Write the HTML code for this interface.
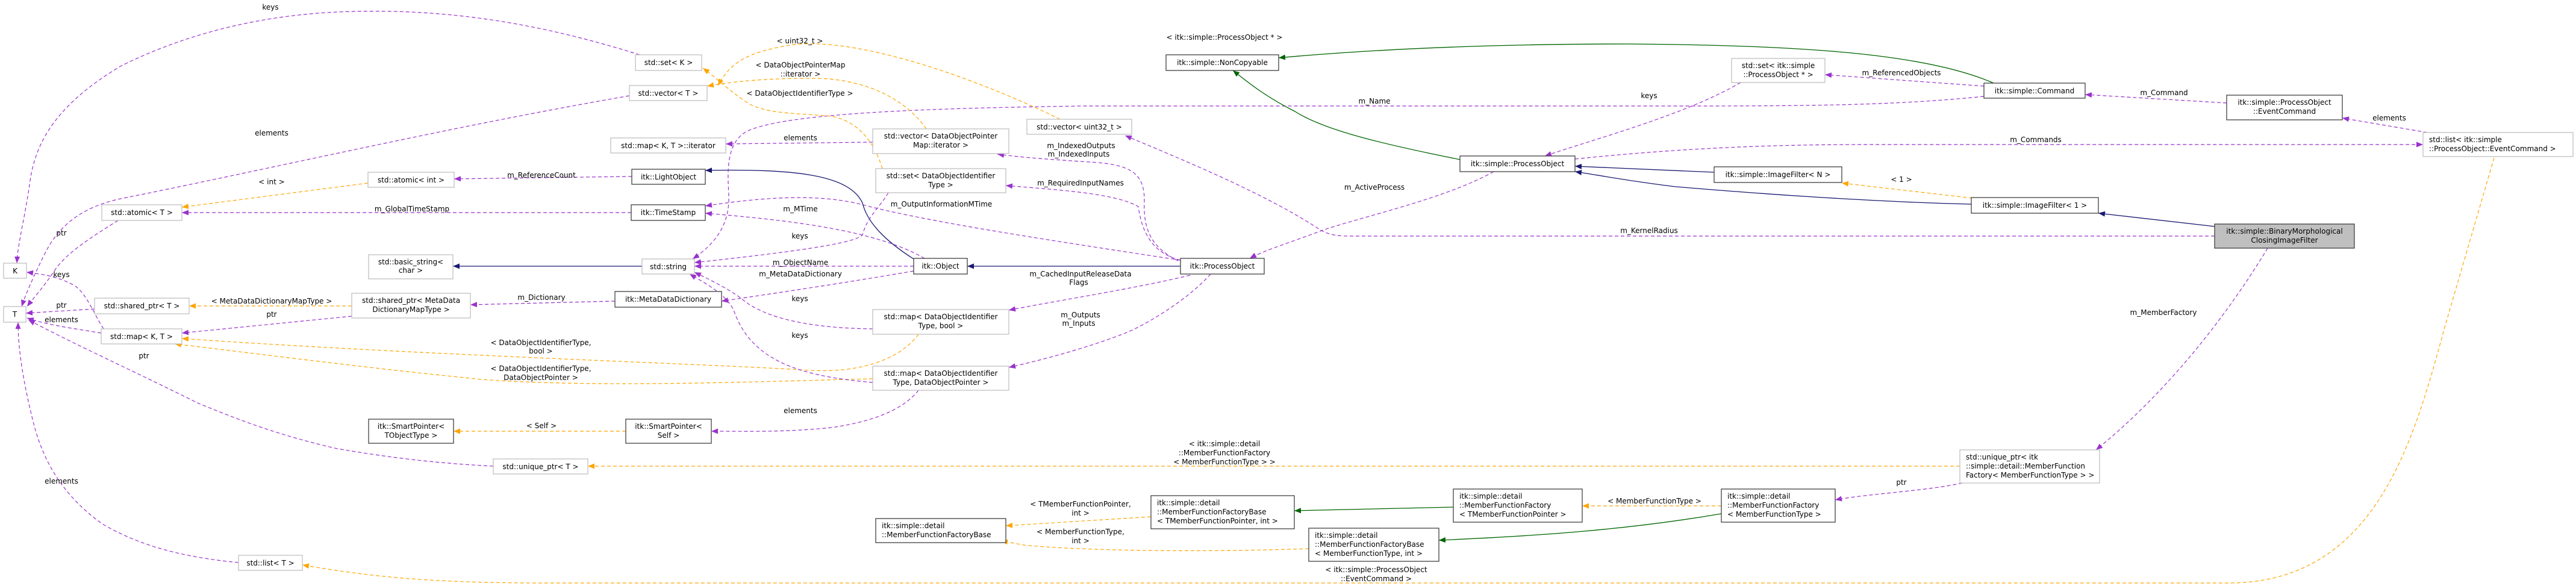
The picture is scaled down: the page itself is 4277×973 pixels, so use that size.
<!DOCTYPE html>
<html><head><meta charset="utf-8"><style>
html,body{margin:0;padding:0;background:#fff;}
svg{display:block;}
text{font-family:"DejaVu Sans","Liberation Sans",sans-serif;font-size:12px;fill:#000;}
.g{fill:#fff;stroke:#bfbfbf;stroke-width:1.3}
.b{fill:#fff;stroke:#404040;stroke-width:1.3}
.p{fill:none;stroke:#9a32cd;stroke-width:1.2;stroke-dasharray:6,4;marker-end:url(#mp)}
.o{fill:none;stroke:#ffa500;stroke-width:1.2;stroke-dasharray:6,4;marker-end:url(#mo)}
.n{fill:none;stroke:#191970;stroke-width:1.3;marker-end:url(#mn)}
.gr{fill:none;stroke:#006400;stroke-width:1.3;marker-end:url(#mg)}
</style></head><body>
<svg width="4277" height="973" viewBox="0 0 4277 973" xmlns="http://www.w3.org/2000/svg">
<defs>
<marker id="mp" markerUnits="userSpaceOnUse" markerWidth="12" markerHeight="9" refX="11" refY="4.5" orient="auto"><path d="M0,0 L11,4.5 L0,9 z" fill="#9a32cd"/></marker>
<marker id="mo" markerUnits="userSpaceOnUse" markerWidth="12" markerHeight="9" refX="11" refY="4.5" orient="auto"><path d="M0,0 L11,4.5 L0,9 z" fill="#ffa500"/></marker>
<marker id="mn" markerUnits="userSpaceOnUse" markerWidth="12" markerHeight="9" refX="11" refY="4.5" orient="auto"><path d="M0,0 L11,4.5 L0,9 z" fill="#191970"/></marker>
<marker id="mg" markerUnits="userSpaceOnUse" markerWidth="12" markerHeight="9" refX="11" refY="4.5" orient="auto"><path d="M0,0 L11,4.5 L0,9 z" fill="#006400"/></marker>
</defs>

<!-- edges -->
<path class="p" d="M1062,91 C900,40 750,15 589,19 C430,22 300,60 200,110 C100,170 60,230 50,300 C40,370 30,400 28,437"/>
<path class="p" d="M1045,159 C750,210 450,280 200,330 C130,345 95,380 75,420 C55,460 42,490 36,509"/>
<path class="p" d="M196,366 C150,395 110,420 90,450 C70,480 55,495 45,509"/>
<path class="p" d="M172,546 C155,520 145,490 125,475 C100,460 70,455 44,452"/>
<path class="p" d="M157,513 L43,520"/>
<path class="p" d="M168,553 C120,545 80,540 45,528"/>
<path class="p" d="M819,774 C700,768 620,755 560,745 C450,720 380,690 330,670 C230,620 120,570 47,531"/>
<path class="p" d="M396,934 C300,925 230,905 170,870 C100,820 70,760 55,700 C35,620 30,570 30,535"/>
<path class="p" d="M1049,293 L754,297"/>
<path class="o" d="M611,304 L302,344"/>
<path class="p" d="M1048,353 L302,353"/>
<path class="p" d="M1021,500 L781,506"/>
<path class="o" d="M584,508 L314,508"/>
<path class="p" d="M584,525 L302,553"/>
<path class="o" d="M1525,555 C1500,590 1440,620 1345,615 C1200,605 700,590 302,562"/>
<path class="o" d="M1449,629 C1300,632 1000,645 800,630 C600,610 450,590 290,571"/>
<path class="o" d="M1039,716 L753,716"/>
<path class="p" d="M1525,648 C1500,680 1450,700 1380,710 C1300,718 1240,716 1181,716"/>
<path class="n" d="M1066,442 L752,442"/>
<path class="p" d="M1517,442 L1153,442"/>
<path class="p" d="M1517,450 C1400,470 1300,485 1198,500"/>
<path class="p" d="M1535,429 C1450,380 1300,365 1171,354"/>
<path class="p" d="M1960,432 C1750,400 1550,370 1440,342 C1380,325 1300,322 1171,342"/>
<path class="n" d="M1517,430 C1470,400 1440,370 1432,337 C1410,290 1320,280 1171,283"/>
<path class="n" d="M1960,442 L1606,442"/>
<path class="p" d="M1475,320 C1460,345 1440,360 1432,390 C1420,405 1300,420 1153,436"/>
<path class="p" d="M1449,546 C1350,545 1270,530 1230,495 C1210,480 1180,465 1153,452"/>
<path class="p" d="M1449,635 C1330,625 1250,600 1220,520 C1210,490 1170,470 1145,455"/>
<path class="p" d="M3294,160 C3150,175 3000,176 2800,176 L1800,176 C1500,180 1300,190 1240,218 C1200,240 1210,300 1210,330 C1210,380 1180,410 1150,430"/>
<path class="o" d="M1760,198 C1600,120 1400,55 1300,77 C1230,90 1210,110 1192,142"/>
<path class="o" d="M1538,214 C1500,160 1430,130 1350,130 C1270,130 1220,135 1174,143"/>
<path class="o" d="M1465,280 C1450,230 1420,200 1380,193 C1330,188 1270,190 1240,170 C1210,150 1190,130 1167,113"/>
<path class="p" d="M1449,236 L1205,239"/>
<path class="p" d="M1956,433 C1910,410 1898,380 1900,333 C1900,290 1880,275 1823,270 C1750,265 1700,262 1656,256"/>
<path class="p" d="M1960,432 C1910,420 1895,380 1890,343 C1850,320 1750,315 1670,308"/>
<path class="p" d="M1976,457 C1880,480 1750,500 1675,515"/>
<path class="p" d="M2010,455 C1970,500 1900,540 1871,552 C1800,580 1720,600 1675,610"/>
<path class="p" d="M3677,392 L2240,392 C2215,392 2205,388 2194,383 C2100,320 1950,260 1868,225"/>
<path class="p" d="M2480,285 C2400,330 2260,360 2194,383 C2150,400 2100,415 2075,429"/>
<path class="p" d="M2890,137 C2800,190 2650,230 2565,259"/>
<path class="p" d="M3294,143 L3030,124"/>
<path class="p" d="M2615,264 C2800,245 2950,240 3100,240 L4023,240"/>
<path class="p" d="M4030,220 L3889,196"/>
<path class="p" d="M3697,171 L3462,157"/>
<path class="gr" d="M3310,138 C3200,90 3000,75 2705,73 C2500,73 2300,80 2123,96"/>
<path class="gr" d="M2424,265 C2300,240 2200,217 2150,185 C2100,160 2070,135 2047,117"/>
<path class="n" d="M2846,286 L2615,276"/>
<path class="n" d="M3273,339 C3100,335 2900,320 2782,310 C2700,300 2650,290 2615,285"/>
<path class="o" d="M3275,329 L3058,304"/>
<path class="n" d="M3677,376 L3484,354"/>
<path class="p" d="M3765,412 C3700,520 3600,650 3480,747"/>
<path class="p" d="M3258,802 C3200,815 3100,820 3047,830"/>
<path class="o" d="M2858,840 L2627,840"/>
<path class="gr" d="M2413,842 L2149,848"/>
<path class="gr" d="M2858,853 C2700,880 2550,890 2389,897"/>
<path class="o" d="M1911,858 L1670,873"/>
<path class="o" d="M2173,911 C2000,917 1800,915 1700,905 L1662,898"/>
<path class="o" d="M3254,774 L976,774"/>
<path class="o" d="M4141,262 L4060,540 C4010,720 3950,968 3700,968 L900,968 C700,968 600,955 502,938"/>

<!-- edge labels -->
<g text-anchor="middle">
<text x="449" y="16">keys</text>
<text x="451" y="225">elements</text>
<text x="102" y="391">ptr</text>
<text x="102" y="460">keys</text>
<text x="102" y="511">ptr</text>
<text x="102" y="535">elements</text>
<text x="239" y="595">ptr</text>
<text x="102" y="803">elements</text>
<text x="899" y="295">m_ReferenceCount</text>
<text x="451" y="306">&lt; int &gt;</text>
<text x="684" y="351">m_GlobalTimeStamp</text>
<text x="899" y="498">m_Dictionary</text>
<text x="451" y="504">&lt; MetaDataDictionaryMapType &gt;</text>
<text x="451" y="526">ptr</text>
<text x="898" y="573">&lt; DataObjectIdentifierType,</text>
<text x="898" y="587">bool &gt;</text>
<text x="898" y="616">&lt; DataObjectIdentifierType,</text>
<text x="898" y="631">DataObjectPointer &gt;</text>
<text x="899" y="711">&lt; Self &gt;</text>
<text x="1329" y="686">elements</text>
<text x="1329" y="440">m_ObjectName</text>
<text x="1329" y="459">m_MetaDataDictionary</text>
<text x="1329" y="351">m_MTime</text>
<text x="1563" y="343">m_OutputInformationMTime</text>
<text x="1328" y="396">keys</text>
<text x="1328" y="500">keys</text>
<text x="1328" y="561">keys</text>
<text x="2282" y="172">m_Name</text>
<text x="1328" y="72">&lt; uint32_t &gt;</text>
<text x="1329" y="112">&lt; DataObjectPointerMap</text>
<text x="1329" y="127">::iterator &gt;</text>
<text x="1328" y="159">&lt; DataObjectIdentifierType &gt;</text>
<text x="1329" y="233">elements</text>
<text x="1795" y="246">m_IndexedOutputs</text>
<text x="1791" y="260">m_IndexedInputs</text>
<text x="1794" y="308">m_RequiredInputNames</text>
<text x="1794" y="459">m_CachedInputReleaseData</text>
<text x="1791" y="473">Flags</text>
<text x="1794" y="527">m_Outputs</text>
<text x="1791" y="541">m_Inputs</text>
<text x="2738" y="387">m_KernelRadius</text>
<text x="2282" y="315">m_ActiveProcess</text>
<text x="2738" y="163">keys</text>
<text x="3157" y="125">m_ReferencedObjects</text>
<text x="3380" y="236">m_Commands</text>
<text x="3967" y="200">elements</text>
<text x="3593" y="158">m_Command</text>
<text x="2033" y="66">&lt; itk::simple::ProcessObject * &gt;</text>
<text x="3157" y="302">&lt; 1 &gt;</text>
<text x="3592" y="523">m_MemberFactory</text>
<text x="3157" y="805">ptr</text>
<text x="2747" y="836">&lt; MemberFunctionType &gt;</text>
<text x="1794" y="841">&lt; TMemberFunctionPointer,</text>
<text x="1794" y="856">int &gt;</text>
<text x="1794" y="887">&lt; MemberFunctionType,</text>
<text x="1794" y="902">int &gt;</text>
<text x="2033" y="741">&lt; itk::simple::detail</text>
<text x="2033" y="756">::MemberFunctionFactory</text>
<text x="2033" y="771">&lt; MemberFunctionType &gt; &gt;</text>
<text x="2285" y="950">&lt; itk::simple::ProcessObject</text>
<text x="2285" y="965">::EventCommand &gt;</text>
</g>

<!-- nodes -->
<g text-anchor="middle">
<rect class="g" x="6" y="437" width="38" height="25"/><text x="25" y="454">K</text>
<rect class="g" x="6" y="509" width="37" height="26"/><text x="24.5" y="526">T</text>
<rect class="g" x="1055" y="91" width="110" height="26"/><text x="1110" y="108">std::set&lt; K &gt;</text>
<rect class="g" x="1045" y="142" width="129" height="25"/><text x="1109.5" y="159">std::vector&lt; T &gt;</text>
<rect class="g" x="1014" y="229" width="191" height="25"/><text x="1109.5" y="246">std::map&lt; K, T &gt;::iterator</text>
<rect class="g" x="611" y="286" width="143" height="25"/><text x="682.5" y="303">std::atomic&lt; int &gt;</text>
<rect class="b" x="1049" y="281" width="122" height="25"/><text x="1110" y="298">itk::LightObject</text>
<rect class="g" x="169" y="340" width="133" height="26"/><text x="235.5" y="357">std::atomic&lt; T &gt;</text>
<rect class="b" x="1048" y="340" width="123" height="26"/><text x="1109.5" y="357">itk::TimeStamp</text>
<rect class="g" x="612" y="423" width="140" height="40"/><text x="682" y="439">std::basic_string&lt;</text><text x="682" y="453">char &gt;</text>
<rect class="g" x="1066" y="430" width="87" height="25"/><text x="1109.5" y="447">std::string</text>
<rect class="b" x="1021" y="484" width="177" height="26"/><text x="1109.5" y="501">itk::MetaDataDictionary</text>
<rect class="g" x="157" y="495" width="157" height="26"/><text x="235.5" y="512">std::shared_ptr&lt; T &gt;</text>
<rect class="g" x="584" y="487" width="197" height="41"/><text x="682.5" y="503">std::shared_ptr&lt; MetaData</text><text x="682.5" y="518">DictionaryMapType &gt;</text>
<rect class="g" x="168" y="546" width="134" height="25"/><text x="235" y="563">std::map&lt; K, T &gt;</text>
<rect class="b" x="612" y="696" width="141" height="40"/><text x="682.5" y="712">itk::SmartPointer&lt;</text><text x="682.5" y="727">TObjectType &gt;</text>
<rect class="b" x="1039" y="696" width="142" height="40"/><text x="1110" y="712">itk::SmartPointer&lt;</text><text x="1110" y="727">Self &gt;</text>
<rect class="g" x="819" y="762" width="157" height="25"/><text x="897.5" y="779">std::unique_ptr&lt; T &gt;</text>
<rect class="g" x="396" y="922" width="106" height="25"/><text x="449" y="939">std::list&lt; T &gt;</text>
<rect class="g" x="1449" y="214" width="226" height="41"/><text x="1562" y="230">std::vector&lt; DataObjectPointer</text><text x="1562" y="245">Map::iterator &gt;</text>
<rect class="g" x="1454" y="280" width="216" height="40"/><text x="1562" y="296">std::set&lt; DataObjectIdentifier</text><text x="1562" y="311">Type &gt;</text>
<rect class="g" x="1705" y="198" width="174" height="25"/><text x="1792" y="215">std::vector&lt; uint32_t &gt;</text>
<rect class="b" x="1936" y="91" width="187" height="26"/><text x="2029.5" y="108">itk::simple::NonCopyable</text>
<rect class="b" x="1517" y="429" width="89" height="26"/><text x="1561.5" y="446">itk::Object</text>
<rect class="b" x="1960" y="429" width="139" height="26"/><text x="2029.5" y="446">itk::ProcessObject</text>
<rect class="g" x="1449" y="514" width="226" height="41"/><text x="1562" y="530">std::map&lt; DataObjectIdentifier</text><text x="1562" y="545">Type, bool &gt;</text>
<rect class="g" x="1449" y="608" width="226" height="40"/><text x="1562" y="624">std::map&lt; DataObjectIdentifier</text><text x="1562" y="639">Type, DataObjectPointer &gt;</text>
<rect class="g" x="2875" y="97" width="155" height="40"/><text x="2952.5" y="113">std::set&lt; itk::simple</text><text x="2952.5" y="128">::ProcessObject * &gt;</text>
<rect class="b" x="2424" y="259" width="191" height="26"/><text x="2519.5" y="276">itk::simple::ProcessObject</text>
<rect class="b" x="2846" y="277" width="212" height="26"/><text x="2952" y="294">itk::simple::ImageFilter&lt; N &gt;</text>
<rect class="b" x="3273" y="328" width="211" height="26"/><text x="3378.5" y="345">itk::simple::ImageFilter&lt; 1 &gt;</text>
<rect class="b" x="3294" y="138" width="168" height="25"/><text x="3378" y="155">itk::simple::Command</text>
<rect class="b" x="3697" y="158" width="192" height="41"/><text x="3793" y="174">itk::simple::ProcessObject</text><text x="3793" y="189">::EventCommand</text>
<rect x="3677" y="372" width="232" height="40" fill="#bfbfbf" stroke="#404040" stroke-width="1.3"/><text x="3793" y="388">itk::simple::BinaryMorphological</text><text x="3793" y="403">ClosingImageFilter</text>
</g>
<g text-anchor="start">
<rect class="b" x="1454" y="861" width="216" height="40"/><text x="1464" y="877">itk::simple::detail</text><text x="1464" y="892">::MemberFunctionFactoryBase</text>
<rect class="b" x="1911" y="823" width="238" height="55"/><text x="1921" y="839">itk::simple::detail</text><text x="1921" y="854">::MemberFunctionFactoryBase</text><text x="1921" y="869">&lt; TMemberFunctionPointer, int &gt;</text>
<rect class="b" x="2173" y="877" width="216" height="55"/><text x="2183" y="893">itk::simple::detail</text><text x="2183" y="908">::MemberFunctionFactoryBase</text><text x="2183" y="923">&lt; MemberFunctionType, int &gt;</text>
<rect class="b" x="2413" y="812" width="214" height="55"/><text x="2423" y="828">itk::simple::detail</text><text x="2423" y="843">::MemberFunctionFactory</text><text x="2423" y="858">&lt; TMemberFunctionPointer &gt;</text>
<rect class="b" x="2858" y="812" width="189" height="55"/><text x="2868" y="828">itk::simple::detail</text><text x="2868" y="843">::MemberFunctionFactory</text><text x="2868" y="858">&lt; MemberFunctionType &gt;</text>
<rect class="g" x="3254" y="747" width="232" height="55"/><text x="3264" y="763">std::unique_ptr&lt; itk</text><text x="3264" y="778">::simple::detail::MemberFunction</text><text x="3264" y="793">Factory&lt; MemberFunctionType &gt; &gt;</text>
<rect class="g" x="4023" y="220" width="249" height="40"/><text x="4033" y="236">std::list&lt; itk::simple</text><text x="4033" y="251">::ProcessObject::EventCommand &gt;</text>
</g>
</svg>
</body></html>
